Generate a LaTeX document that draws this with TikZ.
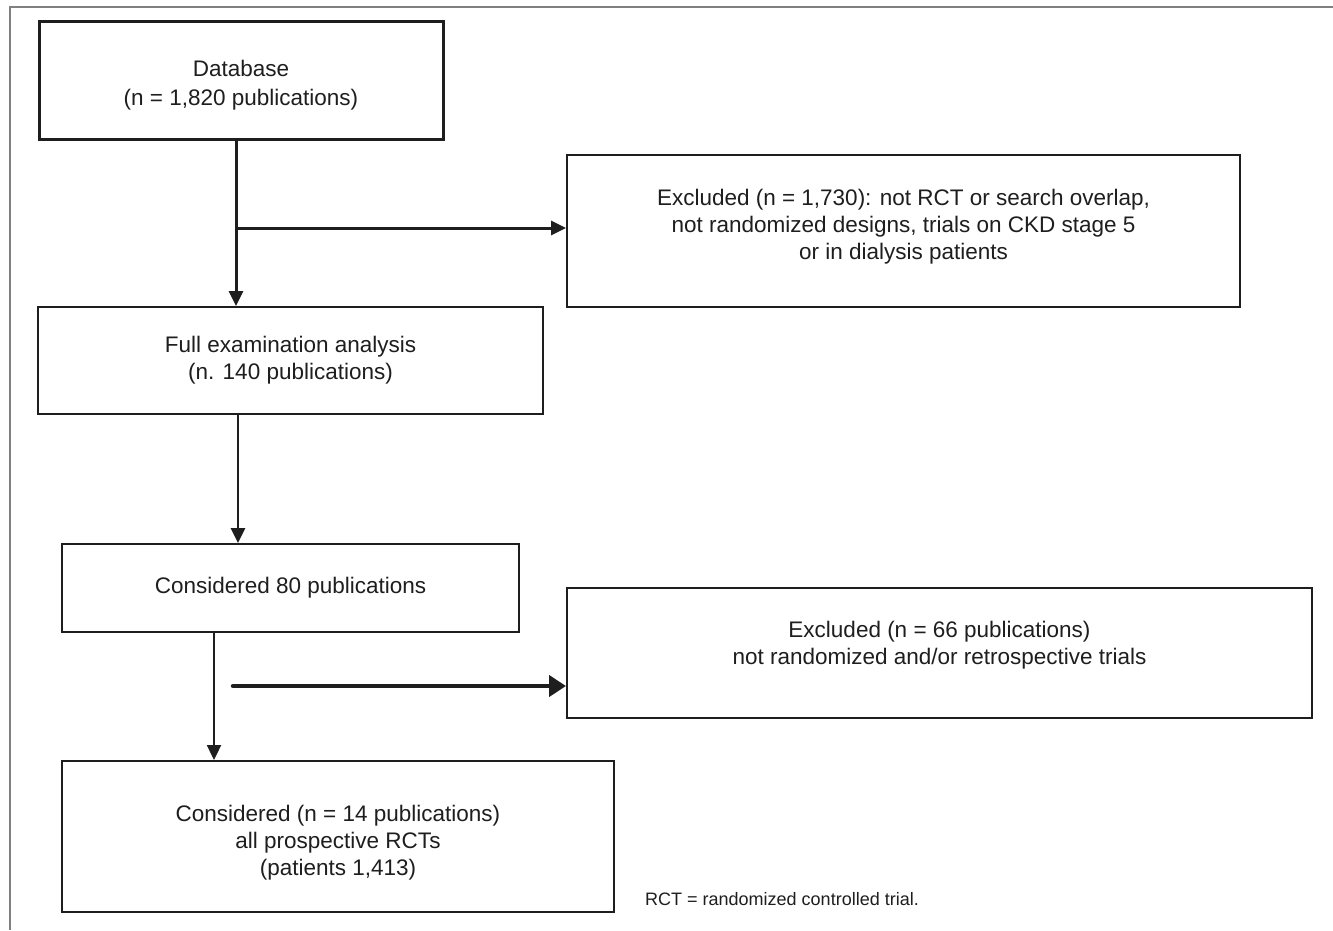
\documentclass[tikz,border=0pt]{standalone}
\usepackage{fontspec}
\setmainfont{Liberation Sans}
\usetikzlibrary{arrows.meta}
\definecolor{ink}{HTML}{1E1E1E}
\definecolor{framegray}{HTML}{808080}
\tikzset{
  box/.style={draw=ink, line width=2pt, inner sep=0pt, align=center, text=ink,
    font=\fontsize{22.5}{27}\selectfont},
  flow/.style={draw=ink, line width=3pt, -{Triangle[length=15pt,width=14pt]}},
  flowthin/.style={draw=ink, line width=2.6pt, -{Triangle[length=15pt,width=14pt]}},
  flowbig/.style={draw=ink, line width=4.5pt, line cap=round, -{Triangle[length=17pt,width=21pt]}},
  note/.style={text=ink, inner sep=0pt, font=\fontsize{18}{22}\selectfont},
}
\begin{document}
\begin{tikzpicture}[x=1pt,y=-1pt]
\useasboundingbox (0,0) rectangle (1333,930);
\fill[white] (0,0) rectangle (1333,930);
% frame
\draw[framegray, line width=1.5pt] (10,930) -- (10,7) -- (1333,7);

% boxes
\node[box, line width=3pt, minimum width=404pt, minimum height=118pt] (db) at (241,80)
  {Database\\[2pt](n = 1,820 publications)\\[-32pt]};
\node[box, minimum width=673pt, minimum height=152pt] (ex1) at (903.5,231)
  {Excluded (n = 1,730): not RCT or search overlap,\\not randomized designs, trials on CKD stage 5\\or in dialysis patients\\[-13pt]};
\node[box, minimum width=505pt, minimum height=107pt] (full) at (290.5,360.5)
  {Full examination analysis\\(n. 140 publications)};
\node[box, minimum width=457pt, minimum height=88pt] (c80) at (290.5,588)
  {Considered 80 publications};
\node[box, minimum width=745pt, minimum height=130pt] (ex2) at (939.5,653)
  {Excluded (n = 66 publications)\\not randomized and/or retrospective trials\\[-6pt]};
\node[box, minimum width=552pt, minimum height=151pt] (fin) at (338,836.5)
  {Considered (n = 14 publications)\\all prospective RCTs\\(patients 1,413)\\[-34pt]};

\node[note, anchor=west] (rct) at (645,899) {RCT = randomized controlled trial.};

% connector helpers
\coordinate (j1) at (236,228);
\coordinate (j2) at (238,415);
\coordinate (j3) at (214,632);
\coordinate (s2) at (233,686);

\draw[flow] (j1 |- db.south) -- (j1 |- full.north);
\draw[flow] (j1) -- (j1 -| ex1.west);
\draw[flowthin] (j2 |- full.south) -- (j2 |- c80.north);
\draw[flowthin, line width=2.3pt] (j3 |- c80.south) -- (j3 |- fin.north);
\draw[flowbig] (s2) -- (s2 -| ex2.west);
\end{tikzpicture}
\end{document}
